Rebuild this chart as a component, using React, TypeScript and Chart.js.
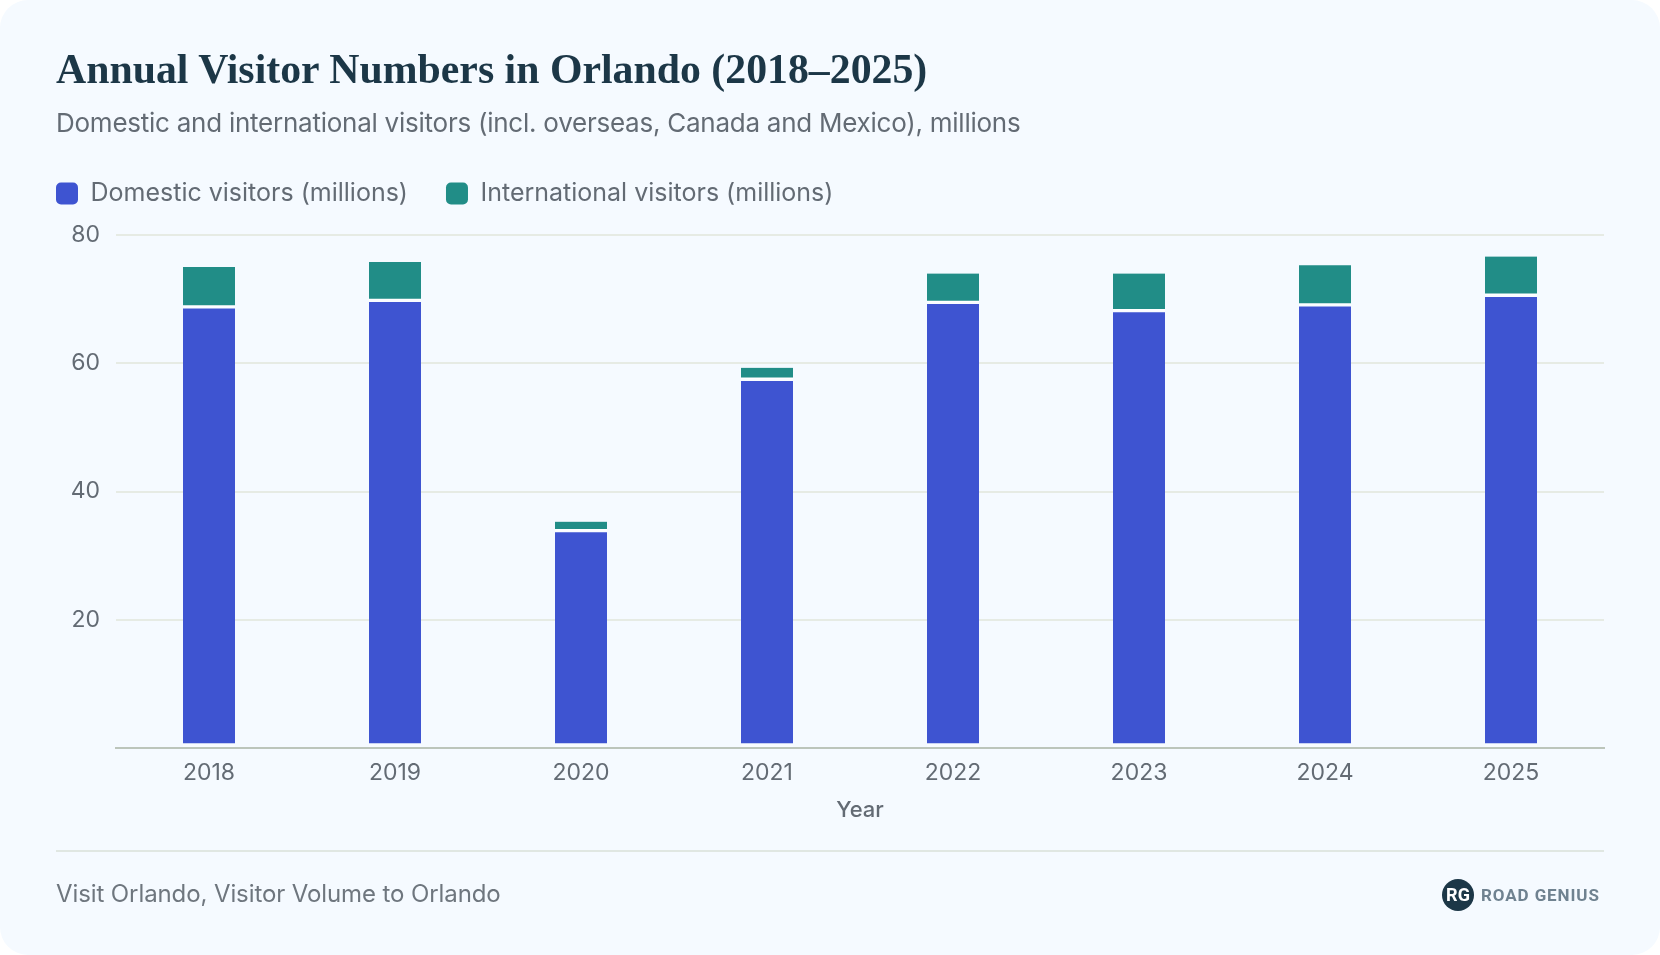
import React, { useRef, useEffect } from "react";
import { Chart, registerables } from "chart.js";

Chart.register(...registerables);

const years = ["2018", "2019", "2020", "2021", "2022", "2023", "2024", "2025"];
const domestic = [68.8, 69.8, 33.9, 57.5, 69.5, 68.2, 69.1, 70.6];
const international = [6.2, 6.0, 1.4, 1.8, 4.5, 5.8, 6.2, 6.05];
const yTicks = [20, 40, 60, 80];

const sans = "Inter, 'Noto Sans', sans-serif";
const bg = "#f5faff";
const textGrey = "#636b74";

// the legend sits further from the plot than Chart.js leaves by default
const legendGap = {
  id: "legendGap",
  beforeLayout(chart: any) {
    if (!chart.legend || chart.legend.gapAdded) return;
    const fit = chart.legend.fit;
    chart.legend.fit = function () {
      fit.call(this);
      this.height += 19;
    };
    chart.legend.gapAdded = true;
  },
};

const App: React.FC = () => {
  const canvasRef = useRef<HTMLCanvasElement>(null);
  const chartRef = useRef<Chart | null>(null);

  useEffect(() => {
    if (!canvasRef.current) return;
    const ctx = canvasRef.current.getContext("2d");
    if (!ctx) return;

    chartRef.current = new Chart(ctx, {
      type: "bar",
      plugins: [legendGap],
      data: {
        labels: years,
        datasets: [
          {
            label: "Domestic visitors (millions)",
            data: domestic,
            backgroundColor: "#3e54d1",
            borderColor: "#f9fcff",
            borderWidth: { top: 2, bottom: 4, left: 0, right: 0 },
            borderSkipped: false,
          },
          {
            label: "International visitors (millions)",
            data: international,
            backgroundColor: "#218d87",
            borderColor: "#ffffff",
            borderWidth: { top: 0, bottom: 2, left: 0, right: 0 },
            borderSkipped: false,
          },
        ],
      },
      options: {
        animation: false,
        responsive: false,
        maintainAspectRatio: false,
        devicePixelRatio: 1,
        barThickness: 52,
        layout: { padding: { left: 18, right: 56, top: 143, bottom: 131 } },
        plugins: {
          tooltip: { enabled: false },
          legend: {
            position: "top",
            align: "start",
            labels: {
              boxWidth: 22,
              boxHeight: 22,
              padding: 38,
              useBorderRadius: true,
              borderRadius: 5,
              color: textGrey,
              font: { family: sans, size: 25 },
              generateLabels: (chart: Chart) =>
                chart.data.datasets.map((d, i) => ({
                  text: d.label as string,
                  fillStyle: d.backgroundColor as string,
                  strokeStyle: d.backgroundColor as string,
                  lineWidth: 0,
                  borderRadius: 5,
                  datasetIndex: i,
                  fontColor: textGrey,
                })),
            },
          },
        },
        scales: {
          x: {
            stacked: true,
            grid: { display: false },
            border: { display: true, color: "#bcc5bb", width: 2, z: 1 },
            ticks: { color: textGrey, font: { family: sans, size: 23 }, padding: 3, maxRotation: 0 },
            title: {
              display: true,
              text: "Year",
              color: textGrey,
              font: { family: sans, size: 22, weight: 500 },
              padding: { top: 8, bottom: 0 },
            },
          },
          y: {
            stacked: true,
            min: 0,
            max: 80,
            afterBuildTicks: (scale: any) => {
              scale.ticks = [0, ...yTicks].map((value) => ({ value }));
            },
            afterFit: (scale: any) => {
              scale.width = 98;
            },
            grid: { color: "#e6ebe4", lineWidth: 2, drawTicks: false },
            border: { display: false },
            ticks: {
              color: textGrey,
              padding: 16,
              font: { family: sans, size: 23 },
              callback: (v: any) => (v === 0 ? "" : v),
            },
          },
        },
      } as any,
    });

    return () => {
      if (chartRef.current) {
        chartRef.current.destroy();
      }
    };
  }, []);

  return (
    <div style={{ position: "absolute", left: 0, top: 0, width: 1660, height: 955, background: "#fff", overflow: "hidden" }}>
      <div style={{ position: "absolute", inset: 0, background: bg, borderRadius: 28 }} />
      <canvas ref={canvasRef} width={1660} height={955} style={{ position: "absolute", left: 0, top: 0, width: 1660, height: 955 }} />
      <div style={{ position: "absolute", left: 56, top: 45, lineHeight: "48px", fontFamily: "'Liberation Serif', serif", fontWeight: 700, fontSize: 41.8, color: "#1c3747", whiteSpace: "nowrap" }}>
        Annual Visitor Numbers in Orlando (2018–2025)
      </div>
      <div style={{ position: "absolute", left: 56, top: 107, fontFamily: sans, fontSize: 26, letterSpacing: -0.25, color: textGrey, whiteSpace: "nowrap" }}>
        Domestic and international visitors (incl. overseas, Canada and Mexico), millions
      </div>
      <div style={{ position: "absolute", left: 56, width: 1548, top: 850, height: 2, background: "#e0e7e2" }} />
      <div style={{ position: "absolute", left: 56, top: 879, fontFamily: sans, fontSize: 24, letterSpacing: -0.1, color: "#6e767e", whiteSpace: "nowrap" }}>
        Visit Orlando, Visitor Volume to Orlando
      </div>
      <div style={{ position: "absolute", left: 1442, top: 879, width: 32, height: 32, borderRadius: "50%", background: "#1c3747", color: "#fff", fontFamily: "'Roboto', sans-serif", fontWeight: 700, fontSize: 18, lineHeight: "32px", textAlign: "center" }}>
        RG
      </div>
      <div style={{ position: "absolute", left: 1481, top: 885, fontFamily: "'Roboto', sans-serif", fontWeight: 700, fontSize: 17, color: "#6f8290", whiteSpace: "nowrap", letterSpacing: 0.9 }}>
        ROAD GENIUS
      </div>
    </div>
  );
};

export default App;
